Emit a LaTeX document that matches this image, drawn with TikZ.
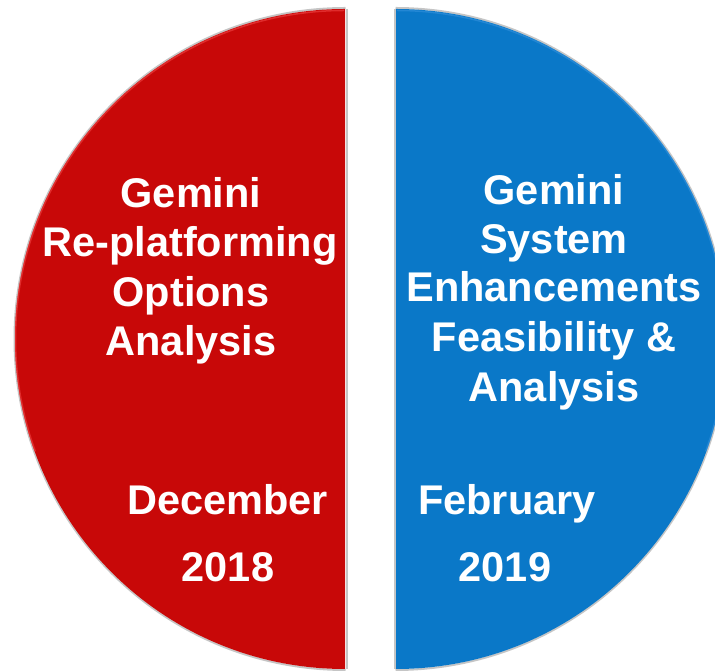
\documentclass[tikz,border=0pt]{standalone}
\usepackage{fontspec}
\setmainfont{Liberation Sans}
\definecolor{halfred}{RGB}{200,8,8}
\definecolor{halfblue}{RGB}{10,120,200}
\definecolor{redhi}{RGB}{235,60,60}
\definecolor{bluehi}{RGB}{60,150,225}
\tikzset{
  lbl/.style={text=white, font=\bfseries\fontsize{41.5}{49}\selectfont, inner sep=0pt, anchor=base},
  edgeshadow/.style={draw=black!45, line width=2pt, opacity=0.5}
}
\begin{document}
\begin{tikzpicture}[x=1pt,y=1pt]
\useasboundingbox (0,0) rectangle (715,671);
\begin{scope}
\clip (0,0) rectangle (715,671);
% shadows
\draw[edgeshadow] (346.5,662) -- (346.5,2);
\draw[edgeshadow] (394.5,662) -- (394.5,2);
\draw[edgeshadow] (345.5,663) arc[start angle=90, end angle=270, radius=331];
\draw[edgeshadow] (395.5,663) arc[start angle=90, end angle=-90, radius=331];
% halves
\fill[halfred] (345,662) arc[start angle=90, end angle=270, radius=330] -- cycle;
\fill[halfblue] (396,662) arc[start angle=90, end angle=-90, radius=330] -- cycle;
% highlights
\draw[redhi, line width=1.5pt, opacity=0.7] (344,660.5) arc[start angle=90, end angle=200, radius=328.5];
\draw[bluehi, line width=1.5pt, opacity=0.5] (397,660.5) arc[start angle=90, end angle=-20, radius=328.5];
\end{scope}
% left text
\node[lbl] (l1) at (191,463) {Gemini};
\node[lbl] (l2) at (190,414) {Re-platforming};
\node[lbl] (l3) at (191,364) {Options};
\node[lbl] (l4) at (191,315) {Analysis};
\node[lbl] (ld) at (227.5,156) {December};
\node[lbl] (ly) at (228,89) {2018};
% right text
\node[lbl] (r1) at (554,466) {Gemini};
\node[lbl] (r2) at (554,417) {System};
\node[lbl] (r3) at (554,369) {Enhancements};
\node[lbl] (r4) at (554,319) {Feasibility \&};
\node[lbl] (r5) at (554,269) {Analysis};
\node[lbl] (rd) at (507,156) {February};
\node[lbl] (ry) at (505,89) {2019};
\end{tikzpicture}
\end{document}
